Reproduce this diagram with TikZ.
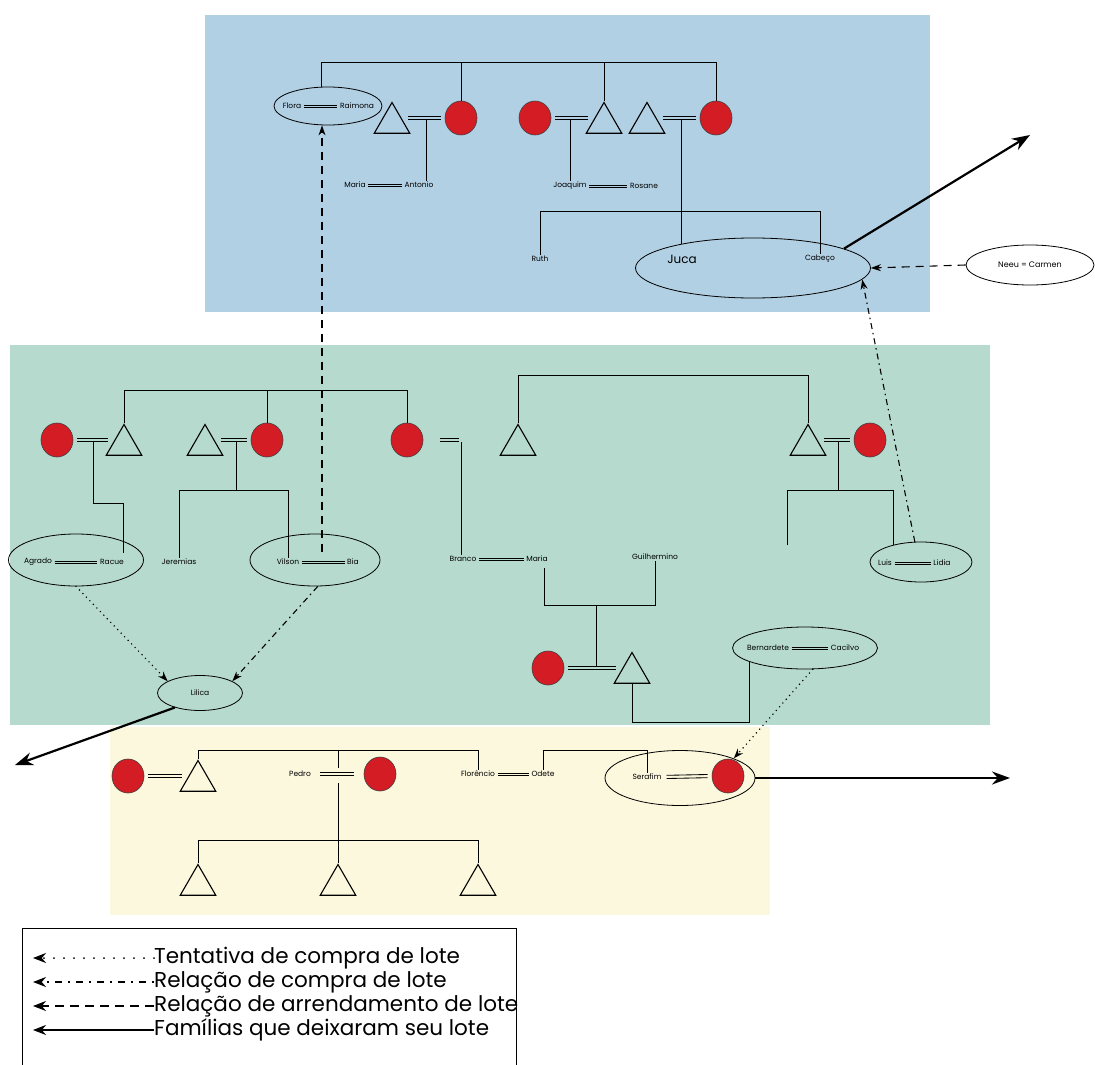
\documentclass[tikz,border=0pt]{standalone}
\usepackage{fontspec}
\setmainfont{Poppins}
\usetikzlibrary{shapes.geometric,arrows.meta,calc}
\definecolor{bgblue}{RGB}{178,208,228}
\definecolor{bggreen}{RGB}{182,218,205}
\definecolor{bgyellow}{RGB}{252,248,222}
\definecolor{redc}{RGB}{212,28,36}
% marriage sign: two parallel short lines between two points
\newcommand\wed[3][]{%
  \draw[mar,#1] ($(#2)+(0,-1.6)$) -- ($(#3)+(0,-1.6)$);
  \draw[mar,#1] ($(#2)+(0,1.6)$) -- ($(#3)+(0,1.6)$);}
\newcommand\wedn[3][]{%
  \draw[marn,#1] ($(#2)+(0,-1.2)$) -- ($(#3)+(0,-1.2)$);
  \draw[marn,#1] ($(#2)+(0,1.2)$) -- ($(#3)+(0,1.2)$);}
\begin{document}
\begin{tikzpicture}[x=1pt,y=-1pt,
 every node/.style={inner sep=1pt, font=\fontsize{7.5}{9}\selectfont},
 fem/.style={ellipse, draw=black!75, line width=.6pt, fill=redc, minimum width=32pt, minimum height=34pt, inner sep=0pt},
 mal/.style={regular polygon, regular polygon sides=3, draw, line width=1.1pt, minimum size=41pt, inner sep=0pt},
 grp/.style={ellipse, draw, line width=.8pt, inner sep=0pt},
 kin/.style={line width=.9pt},
 mar/.style={line width=.85pt, shorten <=4pt, shorten >=4pt},
 marn/.style={line width=.6pt, shorten <=1.5pt, shorten >=1.5pt},
 leave/.style={line width=2.2pt, -{Stealth[length=18pt,width=13pt]}},
 rent/.style={line width=1.1pt, dash pattern=on 8pt off 6pt, -{Stealth[length=10pt,width=7pt]}},
 buy/.style={line width=1.1pt, dash pattern=on 6pt off 4pt on 1.5pt off 4pt, -{Stealth[length=10pt,width=7pt]}},
 try/.style={line width=1.6pt, line cap=round, dash pattern=on 0pt off 5pt, -{Stealth[length=10pt,width=7pt]}},
 lgd/.style={font=\fontsize{21.5}{24}\selectfont, anchor=west, inner sep=0pt},
 ltip/.style={-{Stealth[length=13pt,width=10pt]}},
]
\useasboundingbox (0,0) rectangle (1095,1065);
\fill[white] (0,0) rectangle (1095,1065);
\fill[bgblue] (205,15) rectangle (930,312);
\fill[bggreen] (10,345) rectangle (990,725);
\fill[bgyellow] (110,727) rectangle (770,915);

% ---------------- top group
\node[grp, minimum width=108pt, minimum height=38pt] (eflora) at (328,106) {};
\node (flora) at (292,106) {Flora};
\node (raim) at (357,106) {Raimona};
\wedn{flora.east}{raim.west}
\node[mal] (tA) at (392,123) {};
\node[fem] (cA) at (461,118) {};
\node[fem] (cB) at (535,118) {};
\node[mal] (tB) at (604,123) {};
\node[mal] (tC) at (647,123) {};
\node[fem] (cC) at (716,118) {};
\coordinate (top1) at (321,62);
\draw[kin] (eflora.north -| top1) |- (cC.north |- top1) -- (cC.north);
\draw[kin] (cA.north) -- (cA.north |- top1);
\draw[kin] (tB.north) -- (tB.north |- top1);
\wed{tA.east |- cA}{cA.west}
\wed{cB.east}{tB.west |- cB}
\wed{tC.east |- cC}{cC.west}
\coordinate (mA) at (426,119);
\coordinate (mB) at (570,119);
\coordinate (mC) at (681,119);
\node (maria) at (355,185) {Maria};
\node (antonio) at (419,185) {Antonio};
\wedn{maria.east}{antonio.west}
\draw[kin] (mA) -- (mA |- antonio.north);
\node (joaquim) at (570,186) {Joaquim};
\node (rosane) at (644,186) {Rosane};
\wedn{joaquim.east}{rosane.west}
\draw[kin] (mB) -- (joaquim.north);
\node[grp, minimum width=235pt, minimum height=60pt] (ejuca) at (753,268) {};
\draw[kin] (mC) -- (mC |- ejuca.162);
\node (ruth) at (540,259) {Ruth};
\node[font=\fontsize{12}{14}\selectfont] (juca) at (682,259) {Juca};
\node (cabeco) at (820,259) {Cabeço};
\coordinate (l2) at (0,211);
\draw[kin] (ruth.north) |- (l2 -| cabeco.north) -- (cabeco.north);
\node[grp, fill=white, minimum width=128pt, minimum height=40pt, font=\fontsize{8}{9}\selectfont] (neeu) at (1030,265) {Neeu = Carmen};
\draw[rent] (neeu.west) -- (ejuca.east);
\coordinate (out1) at (1030,135);
\draw[leave] (ejuca.12) -- (out1);

% ---------------- middle group
\node[fem] (m1) at (57,440) {};
\node[mal] (m2) at (124,445) {};
\node[mal] (m3) at (205,445) {};
\node[fem] (m4) at (267,440) {};
\node[fem] (m5) at (407,440) {};
\node[mal] (m6) at (518,445) {};
\node[mal] (m7) at (808,445) {};
\node[fem] (m8) at (870,440) {};
\coordinate (L1) at (0,390);
\draw[kin] (m2.north) |- (L1 -| m5.north) -- (m5.north);
\draw[kin] (m4.north) -- (m4.north |- L1);
\coordinate (L2) at (0,375);
\draw[kin] (m6.north) |- (L2 -| m7.north) -- (m7.north);
\wed{m1.east}{m2.west |- m1}
\wed{m3.east |- m4}{m4.west}
\wed[shorten <=17pt, shorten >=47pt]{m5.east}{m6.west |- m5}
\wed{m7.east |- m8}{m8.west}

\node[grp, minimum width=135pt, minimum height=52pt] (eagr) at (76,560) {};
\node (agrado) at (38,562) {Agrado};
\node (racue) at (112,562) {Racue};
\wedn{agrado.east}{racue.west}
\coordinate (mm1) at (93,441);
\coordinate (j1) at (0,503);
\coordinate (rq) at (123,553);
\draw[kin] (mm1) |- (rq |- j1) -- (rq);

\node (jer) at (179,562) {Jeremias};
\node[grp, minimum width=130pt, minimum height=52pt] (evil) at (315,560) {};
\node (vilson) at (288,562) {Vilson};
\node (bia) at (353,562) {Bia};
\wedn{vilson.east}{bia.west}
\coordinate (mm3) at (236,441);
\coordinate (j2) at (0,490);
\draw[kin] (mm3) -- (mm3 |- j2);
\draw[kin] (jer.north) |- (j2 -| vilson.north) -- (vilson.north);

\node (branco) at (463,559) {Branco};
\node (mariab) at (537,559) {Maria};
\wedn{branco.east}{mariab.west}
\node (guil) at (655,557) {Guilhermino};
\coordinate (mm5) at (461,442);
\draw[kin] (mm5) -- (mm5 |- branco.north);
\coordinate (j3) at (0,605);
\coordinate (mq) at (544,568);
\draw[kin] (mq) |- (j3 -| guil.south) -- (guil.south);
\node[fem] (b1) at (548,668) {};
\node[mal] (b2) at (632,673) {};
\wed{b1.east}{b2.west |- b1}
\coordinate (mb) at (596,605);
\draw[kin] (mb) -- ($(mb |- b1)+(0,-2)$);

\node[grp, minimum width=145pt, minimum height=42pt] (eber) at (805,648) {};
\node (bern) at (768,648) {Bernardete};
\node (cacil) at (845,648) {Cacilvo};
\wedn{bern.east}{cacil.west}
\coordinate (j4) at (0,722);
\draw[kin] (b2.south) |- (j4 -| eber.194) -- (eber.194);

\node[grp, minimum width=102pt, minimum height=40pt] (eluiz) at (921,562) {};
\node (luis) at (885,563) {Luis};
\node (lidia) at (942,563) {Lidia};
\wedn{luis.east}{lidia.west}
\coordinate (mm7) at (838,441);
\coordinate (j5) at (0,490);
\draw[kin] (mm7) -- (mm7 |- j5);
\coordinate (free1) at (787,545);
\draw[kin] (free1) |- (j5 -| eluiz.148) -- (eluiz.148);

\node[grp, minimum width=85pt, minimum height=35pt] (elil) at (200,693) {Lilica};
\draw[buy] (eluiz.107) -- (ejuca.-6);
\draw[try] (eagr.south) -- (elil.160);
\draw[buy] (evil.-84) -- (elil.20);
\coordinate (vd) at (322,552);
\draw[rent] (vd) -- (vd |- eflora.south);
\coordinate (out2) at (15,765);
\draw[leave] (elil.-150) -- (out2);

% ---------------- bottom group
\node[fem] (p1) at (128,776) {};
\node[mal] (p2) at (198,781) {};
\wed{p1.east}{p2.west |- p1}
\coordinate (L3) at (0,750);
\node (pedro) at (300,774) {Pedro};
\node[fem] (p3) at (380,774) {};
\wed[shorten <=8pt, shorten >=10pt]{pedro.east}{p3.west}
\coordinate (mp) at (338,774);
\node (flor) at (478,774) {Florêncio};
\node (odete) at (543,774) {Odete};
\wedn{flor.east}{odete.west}
\draw[kin] (p2.north) |- (L3 -| flor.north) -- (flor.north);
\draw[kin] ([yshift=6pt]mp) -- (mp |- L3);
\node[grp, minimum width=150pt, minimum height=55pt] (eser) at (680,778) {};
\node (seraf) at (647,777) {Serafim};
\node[fem] (p4) at (728,776) {};
\wed{seraf.east}{p4.west}
\draw[kin] (odete.north) |- (L3 -| seraf.north) -- (seraf.north);

\coordinate (L4) at (0,840);
\node[mal] (c1) at (198,885) {};
\node[mal] (c2) at (338,885) {};
\node[mal] (c3) at (478,885) {};
\draw[kin] (c1.north) |- (L4 -| c3.north) -- (c3.north);
\draw[kin, shorten >=9pt] (c2.north) -- (c2.north |- mp);
\coordinate (out3) at (1010,778);
\draw[leave] (eser.east) -- (out3);
\draw[try] (eber.-70) -- (eser.20);

% ---------------- legend
\draw[line width=.9pt] (22,1066) |- (516,928) -- (516,1066);
\node[lgd] (lg1) at (154,958) {Tentativa de compra de lote};
\node[lgd] (lg2) at (154,982) {Relação de compra de lote};
\node[lgd] (lg3) at (154,1006) {Relação de arrendamento de lote};
\node[lgd] (lg4) at (154,1030) {Famílias que deixaram seu lote};
\coordinate (a1) at (33,958);
\coordinate (a2) at (33,982);
\coordinate (a3) at (33,1006);
\coordinate (a4) at (33,1030);
\draw[line width=2pt, line cap=round, dash pattern=on 0pt off 10pt, ltip] (lg1.west) -- (a1);
\draw[line width=1.6pt, dash pattern=on 2pt off 6pt on 7pt off 6pt, ltip] (lg2.west) -- (a2);
\draw[line width=1.6pt, dash pattern=on 9pt off 6pt, ltip] (lg3.west) -- (a3);
\draw[line width=1.8pt, ltip] (lg4.west) -- (a4);
\end{tikzpicture}
\end{document}
